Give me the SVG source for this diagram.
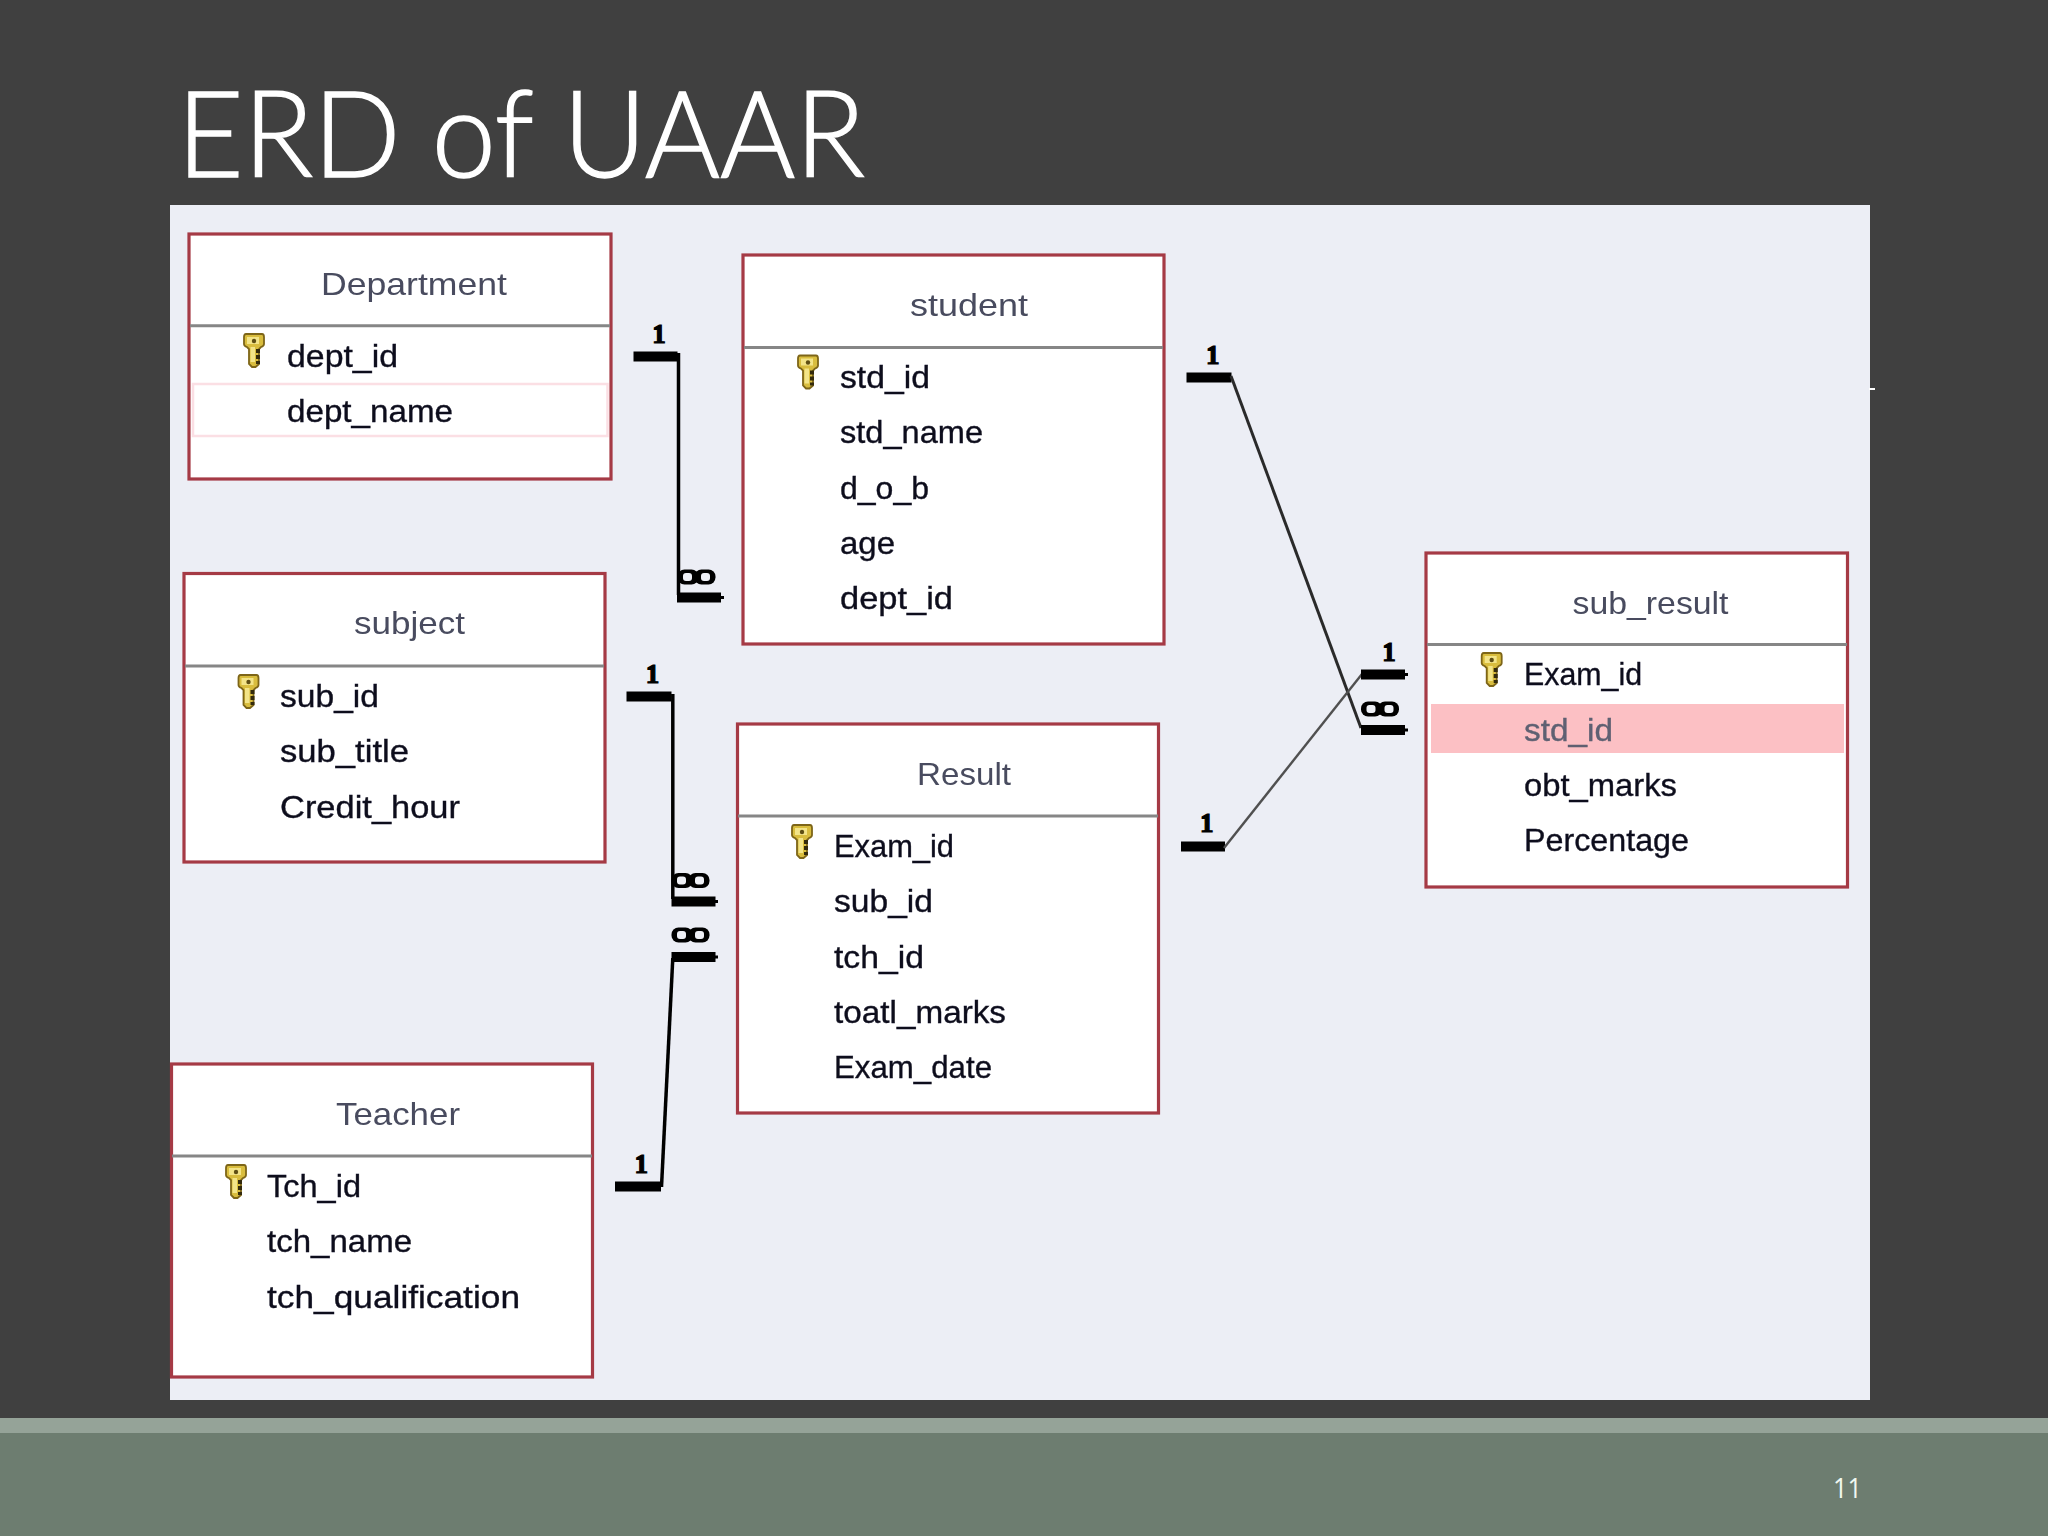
<svg xmlns="http://www.w3.org/2000/svg" width="2048" height="1536" viewBox="0 0 2048 1536">
<style>
.box{fill:#fff;stroke:#a53a45;stroke-width:3.2}
.div{stroke:#868686;stroke-width:3;fill:none}
.ttl{font-family:"Liberation Sans",Arial,sans-serif;font-size:32px;fill:#484c5e;transform:translateY(-.6px)}
.fld{font-family:"Liberation Sans",Arial,sans-serif;font-size:32px;fill:#0e0e1e;stroke:#0e0e1e;stroke-width:.35;transform:translateY(.8px)}
.one{font-family:"Liberation Serif","Times New Roman",serif;font-weight:bold;font-size:27px;fill:#000;text-anchor:middle;stroke:#000;stroke-width:1.2}
.bar{fill:#000}
.ln{stroke:#000;stroke-width:3.5;fill:none}
</style>
<defs>
<filter id="soft" x="-5%" y="-20%" width="110%" height="140%"><feGaussianBlur stdDeviation="0.45"/></filter>
<symbol id="key" width="20" height="33" viewBox="0 0 20 33" overflow="visible">
<path d="M2 0H18Q20 0 20 3V10Q20 12 17 13L15 15V30L11.500 33H8L5 30V15L3 13Q0 12 0 10V3Q0 0 2 0Z" fill="#d9bd3e" stroke="#7d6518" stroke-width="1.800"/>
<path d="M3 3H15V10H3ZM6.500 13H11V28H6.500Z" fill="#f3e488"/>
<circle cx="10" cy="7" r="2.200" fill="#5e4e14"/>
<path d="M12 15h4v4h-4zM12 21h4v4h-4zM12 27h4v3h-4z" fill="#332a0c"/>
</symbol>
<symbol id="inf" width="38" height="15" viewBox="0 0 38 15" overflow="visible">
<rect x="0" y="0" width="21" height="15" rx="7" fill="#000"/>
<rect x="17" y="0" width="21" height="15" rx="7" fill="#000"/>
<rect x="5.500" y="3.500" width="9" height="8" rx="3" fill="#eef0f6"/>
<rect x="23.500" y="3.500" width="9" height="8" rx="3" fill="#eef0f6"/>
</symbol>
</defs>

<rect width="2048" height="1536" fill="#404040"/>
<rect y="1418" width="2048" height="118" fill="#6d7d70"/>
<rect y="1418" width="2048" height="15" fill="#95a398"/>
<rect x="170" y="205" width="1700" height="1195" fill="#ecEEF5"/>
<rect x="1869" y="388" width="6" height="2" fill="#fff"/>

<text x="177" y="176.500" font-family="Lato,'Open Sans',sans-serif" font-weight="300" font-size="120" fill="#fff" stroke="#fff" stroke-width="1.500" textLength="688" lengthAdjust="spacingAndGlyphs">ERD of UAAR</text>
<text x="1833" y="1498" font-family="'Open Sans',sans-serif" font-size="27" fill="#f0f8f0" textLength="29" lengthAdjust="spacingAndGlyphs">11</text>

<g id="connectors">
<g id="dept-student">
<path class="bar" d="M633.500 351.500H677.500V361.500H633.500Z"/>
<path class="ln" d="M678.500 353V595"/>
<use href="#inf" x="677.500" y="569.500"/>
<path class="bar" d="M677 592.500H721V596H724V599H721V602.500H677Z"/>
<text class="one" x="659" y="343">1</text>
</g>
<g id="subject-result">
<path class="bar" d="M626.500 691.500H671.500V701.500H626.500Z"/>
<path class="ln" d="M672.800 694V899"/>
<use href="#inf" x="671.500" y="873"/>
<path class="bar" d="M671.500 896.500H715.500V900H718V903H715.500V906.500H671.500Z"/>
<text class="one" x="652.500" y="683">1</text>
</g>
<g id="teacher-result">
<use href="#inf" x="671.500" y="927.500"/>
<path class="bar" d="M671.500 952H715.500V955.500H718V958.500H715.500V962H671.500Z"/>
<path class="ln" d="M672.800 958L661.500 1187"/>
<path class="bar" d="M615 1181.500H661V1191.500H615Z"/>
<text class="one" x="641.300" y="1172.500">1</text>
</g>
<g id="student-subresult">
<path class="bar" d="M1186.500 372.500H1231.500V382.500H1186.500Z"/>
<path d="M1231 376L1361 728" stroke="#2a2a2a" stroke-width="3" fill="none"/>
<use href="#inf" x="1361" y="701.500"/>
<path class="bar" d="M1361 725H1405V728.500H1408V731.500H1405V735H1361Z"/>
<text class="one" x="1212.700" y="364">1</text>
</g>
<g id="result-subresult">
<path class="bar" d="M1181 841.500H1225V851.500H1181Z"/>
<path d="M1224 848L1362 674" stroke="#505050" stroke-width="2.400" fill="none"/>
<path class="bar" d="M1361 669.500H1405V673H1408V676H1405V679.500H1361Z"/>
<text class="one" x="1206.700" y="832">1</text>
<text class="one" x="1389" y="661">1</text>
</g>
</g>

<g id="department">
<rect class="box" x="189" y="234" width="422" height="245"/>
<path class="div" d="M190 325.700H610"/>
<rect x="193" y="384" width="414.500" height="52" fill="#fff" stroke="#fbdfe4" stroke-width="2.500"/>
<use href="#key" x="244" y="334"/>
<g filter="url(#soft)">
<text class="ttl" x="321" y="296" textLength="186" lengthAdjust="spacingAndGlyphs">Department</text>
<text class="fld" x="287" y="366" textLength="111" lengthAdjust="spacingAndGlyphs">dept_id</text>
<text class="fld" x="287" y="421" textLength="166" lengthAdjust="spacingAndGlyphs">dept_name</text>
</g>
</g>

<g id="student">
<rect class="box" x="743" y="255" width="421" height="389"/>
<path class="div" d="M744 347.500H1163"/>
<use href="#key" x="798" y="355.500"/>
<g filter="url(#soft)">
<text class="ttl" x="910" y="317" textLength="118" lengthAdjust="spacingAndGlyphs">student</text>
<text class="fld" x="840" y="387" textLength="90" lengthAdjust="spacingAndGlyphs">std_id</text>
<text class="fld" x="840" y="442.500" textLength="143" lengthAdjust="spacingAndGlyphs">std_name</text>
<text class="fld" x="840" y="498" textLength="89" lengthAdjust="spacingAndGlyphs">d_o_b</text>
<text class="fld" x="840" y="553" textLength="55" lengthAdjust="spacingAndGlyphs">age</text>
<text class="fld" x="840" y="608" textLength="113" lengthAdjust="spacingAndGlyphs">dept_id</text>
</g>
</g>

<g id="subject">
<rect class="box" x="184" y="573.500" width="421" height="288.500"/>
<path class="div" d="M185 666H604"/>
<use href="#key" x="238.500" y="675"/>
<g filter="url(#soft)">
<text class="ttl" x="354" y="635" textLength="111" lengthAdjust="spacingAndGlyphs">subject</text>
<text class="fld" x="280" y="706" textLength="99" lengthAdjust="spacingAndGlyphs">sub_id</text>
<text class="fld" x="280" y="761.500" textLength="129" lengthAdjust="spacingAndGlyphs">sub_title</text>
<text class="fld" x="280" y="817" textLength="180" lengthAdjust="spacingAndGlyphs">Credit_hour</text>
</g>
</g>

<g id="result">
<rect class="box" x="737.500" y="724" width="421" height="389"/>
<path class="div" d="M738 816H1158"/>
<use href="#key" x="792" y="825"/>
<g filter="url(#soft)">
<text class="ttl" x="917" y="786" textLength="94" lengthAdjust="spacingAndGlyphs">Result</text>
<text class="fld" x="834" y="856" textLength="120" lengthAdjust="spacingAndGlyphs">Exam_id</text>
<text class="fld" x="834" y="911.500" textLength="99" lengthAdjust="spacingAndGlyphs">sub_id</text>
<text class="fld" x="834" y="967" textLength="90" lengthAdjust="spacingAndGlyphs">tch_id</text>
<text class="fld" x="834" y="1022" textLength="172" lengthAdjust="spacingAndGlyphs">toatl_marks</text>
<text class="fld" x="834" y="1077" textLength="158" lengthAdjust="spacingAndGlyphs">Exam_date</text>
</g>
</g>

<g id="teacher">
<rect class="box" x="171.500" y="1064" width="421" height="313"/>
<path class="div" d="M172 1156H592"/>
<use href="#key" x="226" y="1165"/>
<g filter="url(#soft)">
<text class="ttl" x="336" y="1126" textLength="124" lengthAdjust="spacingAndGlyphs">Teacher</text>
<text class="fld" x="267" y="1196" textLength="94" lengthAdjust="spacingAndGlyphs">Tch_id</text>
<text class="fld" x="267" y="1251.500" textLength="145" lengthAdjust="spacingAndGlyphs">tch_name</text>
<text class="fld" x="267" y="1307" textLength="253" lengthAdjust="spacingAndGlyphs">tch_qualification</text>
</g>
</g>

<g id="sub_result">
<rect class="box" x="1426" y="553" width="421.500" height="334"/>
<path class="div" d="M1427 644.500H1847"/>
<rect x="1431" y="704" width="413" height="49" fill="#fcc0c4"/>
<use href="#key" x="1481.700" y="653"/>
<g filter="url(#soft)">
<text class="ttl" x="1572.500" y="615" textLength="156" lengthAdjust="spacingAndGlyphs">sub_result</text>
<text class="fld" x="1524" y="684" textLength="118" lengthAdjust="spacingAndGlyphs">Exam_id</text>
<text class="fld" x="1524" y="740" textLength="89" lengthAdjust="spacingAndGlyphs" style="fill:#5e6072;stroke:#5e6072">std_id</text>
<text class="fld" x="1524" y="795" textLength="153" lengthAdjust="spacingAndGlyphs">obt_marks</text>
<text class="fld" x="1524" y="850" textLength="165" lengthAdjust="spacingAndGlyphs">Percentage</text>
</g>
</g>
</svg>
